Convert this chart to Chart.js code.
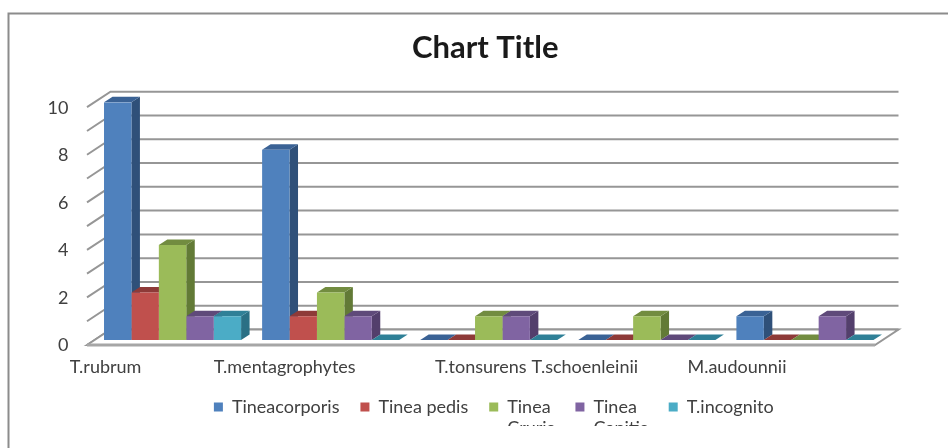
<!DOCTYPE html>
<html>
<head>
<meta charset="utf-8">
<style>
  body { margin: 0; background: #fff; }
</style>
<script src="https://cdn.jsdelivr.net/npm/chart.js@4/dist/chart.umd.min.js"></script>
</head>
<body>
<canvas id="chart" width="948" height="448"></canvas>
<script>
const species = ['T.rubrum', 'T.mentagrophytes', 'T.tonsurens', 'T.schoenleinii', 'M.audounnii'];
const tineaCorporis = [10, 8, 0, 0, 1];
const tineaPedis = [2, 1, 0, 0, 0];
const tineaCruris = [4, 2, 1, 1, 0];
const tineaCapitis = [1, 1, 1, 0, 1];
const tIncognito = [1, 0, 0, 0, 0];
const yTicks = [0, 1, 2, 3, 4, 5, 6, 7, 8, 9, 10];

// the axis labels sit well left of their groups, and not by the same amount
const labelShift = [-67, -46, -8, -62, -68];

// front, top, side
const shades = [
    ['#4f81bd', '#3a6295', '#2f5079'],
    ['#c0504d', '#8e3a38', '#7d3331'],
    ['#9bbb59', '#728c40', '#627a36'],
    ['#8064a2', '#5f4a7a', '#533f6c'],
    ['#4bacc6', '#2f8097', '#2a7085'],
];

const barDepth = { x: 8.5, y: 5.5 };
const wall = { x: 23.5, front: 5, back: 10.5 };

function poly(ctx, pts, fill, stroke) {
    ctx.beginPath();
    pts.forEach((p, i) => i ? ctx.lineTo(p[0], p[1]) : ctx.moveTo(p[0], p[1]));
    ctx.closePath();
    if (fill) {
        ctx.fillStyle = fill;
        ctx.fill();
    }
    if (stroke) {
        ctx.strokeStyle = stroke;
        ctx.stroke();
    }
}

// legend measures an array label as one joined string, so give it the wider line instead
function twoLines(first, second) {
    const text = [first, second];
    text.toString = () => second;
    return text;
}

const box3d = {
    id: 'box3d',
    afterLayout(chart) {
        // title and legend are not quite centred over the plot
        chart.titleBlock.left -= 3.5;
        chart.titleBlock.right -= 3.5;
        chart.legend.left += 5;
        chart.legend.right += 5;
    },
    beforeDraw(chart) {
        const { ctx, chartArea: a, scales: { y } } = chart;
        const left = a.left - 6.5;
        const right = a.right - 9;
        const base = y.getPixelForValue(0);

        ctx.save();
        // outer frame runs off the right and bottom of the canvas
        ctx.strokeStyle = '#8c8c8c';
        ctx.lineWidth = 2;
        ctx.strokeRect(8.5, 13.5, 960, 460);

        // walls
        ctx.strokeStyle = '#969696';
        ctx.lineWidth = 2;
        yTicks.forEach(t => {
            const py = y.getPixelForValue(t);
            ctx.beginPath();
            ctx.moveTo(left, py + wall.front);
            ctx.lineTo(left + wall.x, py - wall.back);
            ctx.lineTo(right + wall.x, py - wall.back);
            ctx.stroke();
        });

        // floor, the front edge is heavier
        poly(ctx, [
            [left, base + wall.front],
            [left + wall.x, base - wall.back],
            [right + wall.x, base - wall.back],
            [right, base + wall.front],
        ], '#fff', '#969696');
        ctx.strokeStyle = '#a6a6a6';
        ctx.lineWidth = 3;
        ctx.beginPath();
        ctx.moveTo(left, base + wall.front);
        ctx.lineTo(right, base + wall.front);
        ctx.stroke();
        ctx.restore();
    },
    beforeDatasetsDraw(chart) {
        const { ctx } = chart;
        const d = barDepth;
        ctx.save();
        chart.data.datasets.forEach((ds, i) => {
            chart.getDatasetMeta(i).data.forEach(bar => {
                const l = bar.x - bar.width / 2;
                const r = bar.x + bar.width / 2;
                const t = bar.y;
                const b = bar.base;
                if (b > t) {
                    poly(ctx, [[r, t], [r + d.x, t - d.y], [r + d.x, b - d.y], [r, b]], shades[i][2]);
                }
                poly(ctx, [[l, t], [l + d.x, t - d.y], [r + d.x, t - d.y], [r, t]], shades[i][1]);
            });
        });
        ctx.restore();
    },
    afterDraw(chart) {
        const { ctx, chartArea: a, scales: { x } } = chart;
        ctx.save();
        ctx.font = '18px Lato';
        ctx.fillStyle = '#404040';
        ctx.textAlign = 'center';
        ctx.textBaseline = 'middle';
        species.forEach((s, i) => {
            ctx.fillText(s, x.getPixelForTick(i) + labelShift[i], a.bottom + 27);
        });
        ctx.restore();
    }
};

function series(label, data, i) {
    return {
        label: label,
        data: data,
        backgroundColor: shades[i][0],
        borderWidth: 0,
        barPercentage: 1,
        categoryPercentage: 0.867,
    };
}

new Chart(document.getElementById('chart'), {
    type: 'bar',
    data: {
        labels: species,
        datasets: [
            series('Tineacorporis', tineaCorporis, 0),
            series('Tinea pedis', tineaPedis, 1),
            series(twoLines('Tinea', 'Cruris'), tineaCruris, 2),
            series(twoLines('Tinea', 'Capitis'), tineaCapitis, 3),
            series('T.incognito', tIncognito, 4),
        ]
    },
    options: {
        responsive: false,
        animation: false,
        layout: { padding: { left: 0, right: 64, top: 20, bottom: 22 } },
        plugins: {
            title: {
                display: true,
                text: 'Chart Title',
                color: '#1a1a1a',
                fullSize: false,
                font: { family: 'Lato', size: 31, weight: 'bold' },
                padding: { top: 9, bottom: 36 },
            },
            legend: {
                position: 'bottom',
                fullSize: false,
                labels: {
                    boxWidth: 9,
                    boxHeight: 9,
                    color: '#404040',
                    padding: 21,
                    font: { family: 'Lato', size: 18 },
                },
            },
            tooltip: { enabled: false },
        },
        scales: {
            x: {
                grid: { display: false },
                border: { display: false },
                ticks: { display: false },
                afterFit: s => { s.height = 37; },
            },
            y: {
                min: 0,
                max: 10,
                afterFit: s => { s.width = 93.5; },
                grid: { display: false },
                border: { display: false },
                ticks: {
                    stepSize: 1,
                    color: '#404040',
                    padding: 17,
                    labelOffset: 5.5,
                    font: { family: 'Lato', size: 18 },
                },
            },
        },
    },
    plugins: [box3d],
});
</script>
</body>
</html>
